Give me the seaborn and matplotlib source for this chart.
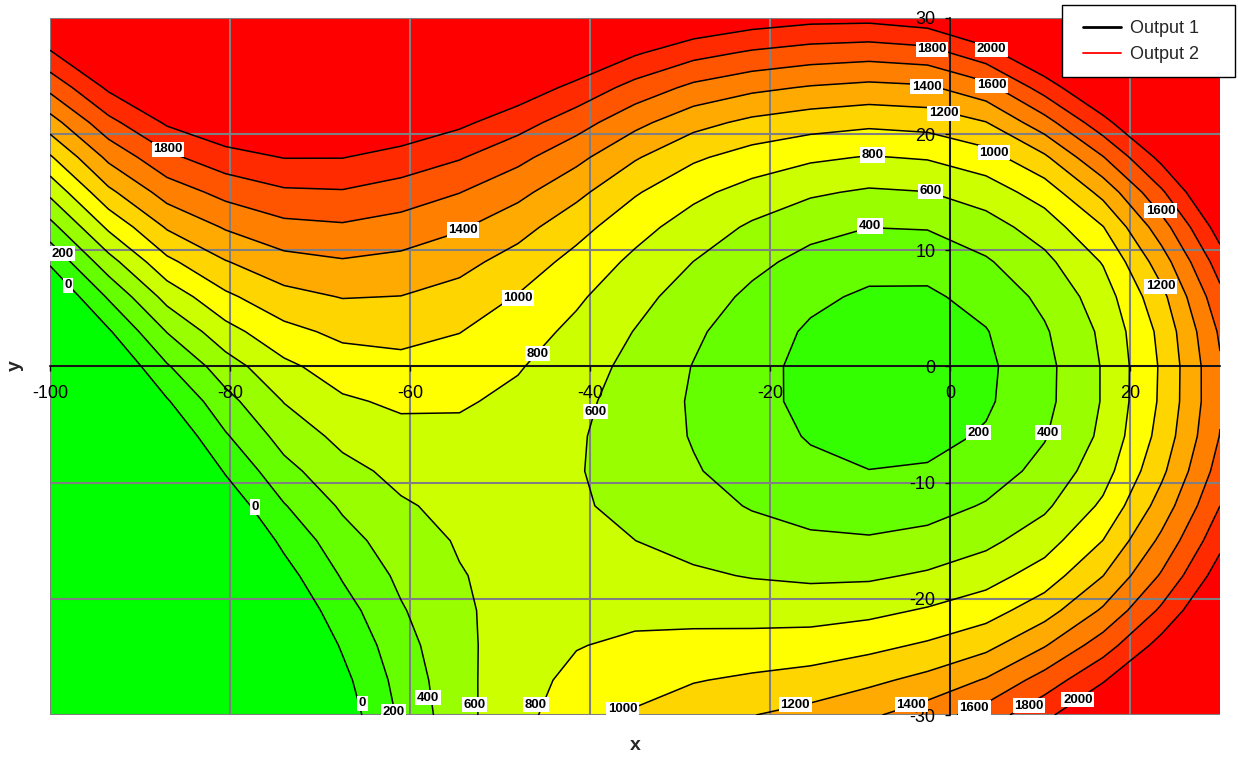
import numpy as np
import matplotlib
matplotlib.use("Agg")
import matplotlib.pyplot as plt
import seaborn as sns
from matplotlib.lines import Line2D
from matplotlib.patches import Rectangle

# Grid coordinates of the response surface
x_values = [-100, -93.5, -87, -80.5, -74, -67.5, -61, -54.5, -48, -41.5, -35,
            -28.5, -22, -15.5, -9, -2.5, 4, 10.5, 17, 23.5, 30]
y_values = [-30, -27, -24, -21, -18, -15, -12, -9, -6, -3, 0,
            3, 6, 9, 12, 15, 18, 21, 24, 27, 30]

# Output 1 values, one row per y value (columns follow x_values)
z_ym30 = [-1780, -1447, -1110, -775, -445, -116, 234, 533, 746, 900, 1019, 1112, 1195, 1265, 1369, 1504, 1694, 1953, 2224, 2514, 2822]
z_ym27 = [-1708, -1374, -1037, -704, -378, -56, 272, 542, 727, 849, 933, 989, 1033, 1077, 1155, 1258, 1418, 1687, 1982, 2307, 2649]
z_ym24 = [-1627, -1292, -953, -618, -294, 22, 324, 552, 702, 791, 837, 858, 872, 890, 945, 1027, 1143, 1385, 1703, 2078, 2466]
z_ym21 = [-1538, -1200, -857, -519, -193, 116, 382, 567, 680, 734, 746, 736, 723, 718, 748, 819, 915, 1112, 1428, 1837, 2280]
z_ym18 = [-1441, -1098, -749, -406, -78, 218, 442, 589, 664, 685, 666, 628, 589, 565, 570, 626, 719, 894, 1197, 1623, 2102]
z_ym15 = [-1334, -985, -629, -281, 46, 321, 509, 617, 658, 647, 601, 538, 477, 434, 420, 460, 552, 711, 1003, 1447, 1941]
z_ym12 = [-1217, -861, -496, -140, 187, 429, 578, 652, 662, 622, 552, 467, 387, 326, 298, 325, 416, 564, 836, 1285, 1800]
z_ym9 = [-1090, -726, -352, 18, 336, 540, 653, 696, 678, 613, 520, 416, 319, 242, 203, 219, 305, 458, 715, 1156, 1686]
z_ym6 = [-951, -576, -195, 179, 476, 653, 738, 753, 709, 621, 508, 387, 274, 186, 137, 142, 221, 387, 640, 1073, 1607]
z_ym3 = [-799, -411, -19, 333, 607, 772, 834, 823, 755, 647, 516, 379, 253, 155, 101, 97, 172, 347, 614, 1033, 1573]
z_y0 = [-632, -229, 179, 507, 754, 901, 942, 906, 815, 690, 543, 393, 257, 151, 93, 86, 161, 343, 614, 1026, 1577]
z_y3 = [-443, -25, 407, 727, 941, 1047, 1062, 1005, 891, 752, 593, 434, 290, 175, 114, 108, 190, 378, 637, 1053, 1629]
z_y6 = [-226, 223, 669, 960, 1136, 1208, 1196, 1124, 988, 831, 666, 505, 357, 238, 171, 168, 267, 448, 700, 1143, 1738]
z_y9 = [28, 519, 953, 1189, 1333, 1382, 1346, 1263, 1116, 933, 756, 598, 452, 336, 267, 270, 377, 549, 813, 1302, 1900]
z_y12 = [327, 838, 1221, 1419, 1543, 1573, 1517, 1422, 1275, 1071, 870, 709, 571, 464, 402, 412, 516, 692, 993, 1511, 2098]
z_y15 = [647, 1153, 1486, 1663, 1769, 1783, 1710, 1605, 1453, 1253, 1020, 848, 725, 627, 574, 596, 695, 890, 1262, 1768, 2317]
z_y18 = [974, 1447, 1754, 1920, 2006, 2005, 1926, 1816, 1655, 1454, 1220, 1031, 914, 833, 788, 816, 918, 1165, 1589, 2059, 2553]
z_y21 = [1312, 1740, 2028, 2177, 2242, 2231, 2155, 2043, 1883, 1687, 1457, 1267, 1153, 1086, 1045, 1072, 1193, 1519, 1930, 2356, 2805]
z_y24 = [1654, 2035, 2288, 2423, 2476, 2460, 2387, 2276, 2125, 1943, 1728, 1551, 1446, 1382, 1344, 1370, 1529, 1886, 2263, 2655, 3066]
z_y27 = [1979, 2306, 2532, 2657, 2703, 2686, 2619, 2513, 2374, 2208, 2024, 1869, 1773, 1712, 1683, 1724, 1922, 2242, 2587, 2950, 3331]
z_y30 = [2252, 2552, 2760, 2878, 2924, 2910, 2848, 2751, 2625, 2478, 2325, 2197, 2112, 2062, 2055, 2114, 2308, 2588, 2904, 3241, 3597]

contour_levels = [0, 200, 400, 600, 800, 1000, 1200, 1400, 1600, 1800, 2000]
x_ticks = [-100, -80, -60, -40, -20, 0, 20]
y_ticks = [-30, -20, -10, 0, 10, 20, 30]
series_names = ["Output 1", "Output 2"]

# Where each contour label sits: (index into contour_levels, x, y)
label_spots = [
    (9, -86.9, 18.7), (1, -98.6, 9.7), (0, -98.0, 7.0), (7, -54.1, 11.75),
    (5, -48.0, 5.9), (4, -45.8, 1.1), (3, -39.4, -3.9), (0, -77.2, -12.1),
    (0, -65.3, -29.0), (1, -61.8, -29.7), (2, -58.0, -28.5), (3, -52.8, -29.1),
    (4, -46.0, -29.1), (5, -36.4, -29.5), (6, -17.2, -29.1), (7, -4.3, -29.1),
    (8, 2.7, -29.4), (9, 8.8, -29.2), (10, 14.2, -28.7), (1, 3.2, -5.7),
    (2, 10.9, -5.7), (6, 23.4, 6.9), (8, 23.4, 13.4), (5, 4.9, 18.4),
    (10, 4.6, 27.3), (9, -2.0, 27.3), (8, 4.6, 24.2), (7, -2.6, 24.1),
    (6, -0.7, 21.8), (4, -8.6, 18.2), (3, -2.2, 15.1), (2, -8.9, 12.1),
]

Z = np.array([z_ym30, z_ym27, z_ym24, z_ym21, z_ym18, z_ym15, z_ym12, z_ym9,
              z_ym6, z_ym3, z_y0, z_y3, z_y6, z_y9, z_y12, z_y15, z_y18,
              z_y21, z_y24, z_y27, z_y30], dtype=float)

sns.set_theme(style="white")
plt.rcParams['font.family'] = ['Liberation Sans', 'DejaVu Sans']
plt.rcParams['axes.unicode_minus'] = False

W, H = 1238, 757
fig = plt.figure(figsize=(W / 100, H / 100), dpi=100)
ax = fig.add_axes([50 / W, 1 - 715 / H, 1170 / W, 697 / H])

# green -> yellow -> red bands, with the outer bands for values below 0 and above 2000
band_colors = (sns.blend_palette(["#00FF00", "#FFFF00"], 6)
               + sns.blend_palette(["#FFFF00", "#FF0000"], 7)[1:])
ax.contourf(x_values, y_values, Z, levels=contour_levels, colors=band_colors,
            extend='both', zorder=1)
ax.contour(x_values, y_values, Z, levels=contour_levels, colors='black',
           linewidths=1.1, zorder=3)

ax.set_xlim(-100, 30)
ax.set_ylim(-30, 30)
ax.set_xticks(x_ticks)
ax.set_yticks(y_ticks)
ax.set_axisbelow(False)
ax.grid(True, color='#808080', lw=1.5)
for side in ('top', 'right'):
    ax.spines[side].set_visible(False)
ax.spines['left'].set_position(('data', 0))
ax.spines['bottom'].set_position(('data', 0))
for side in ('left', 'bottom'):
    ax.spines[side].set_color('black')
    ax.spines[side].set_linewidth(1.2)
    ax.spines[side].set_zorder(2.6)
ax.tick_params(axis='x', direction='out', length=3.6, width=1, color='black',
               pad=10, labelsize=13, labelcolor='black', bottom=True)
ax.tick_params(axis='y', direction='out', length=3.6, width=1, color='black',
               pad=7, labelsize=13, labelcolor='black', left=True)

for idx, lx, ly in label_spots:
    ax.text(lx, ly, str(contour_levels[idx]), ha='center', va='center',
            fontsize=9.5, fontweight='bold', color='black', zorder=6,
            clip_on=False,
            bbox=dict(boxstyle='square,pad=0.12', fc='white', ec='none'))

fig.text(635 / W, 1 - 745 / H, 'x', ha='center', va='center',
         fontsize=14, fontweight='bold')
fig.text(15 / W, 1 - 366 / H, 'y', ha='center', va='center',
         fontsize=14, fontweight='bold', rotation=90)

# legend box overlapping the top-right corner of the plot
fig.patches.append(Rectangle((1062 / W, 1 - 77 / H), 173 / W, 72 / H,
                             transform=fig.transFigure, fc='white',
                             ec='black', lw=1, zorder=5))
handles = [Line2D([], [], color='black', lw=2),
           Line2D([], [], color='red', lw=1.3)]
fig.legend(handles=handles, labels=series_names, loc='upper left',
           bbox_to_anchor=(1074 / W, 1 - 11 / H), frameon=False, fontsize=13,
           handlelength=2.1, handletextpad=0.5, borderpad=0, labelspacing=0.5)

fig.savefig("out.png", dpi=100)
